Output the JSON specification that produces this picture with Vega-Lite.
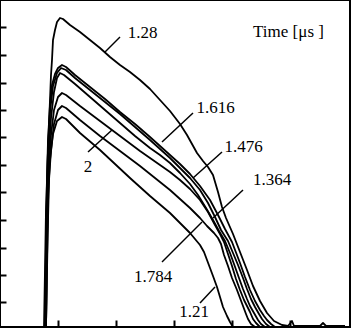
{
  "$schema": "https://vega.github.io/schema/vega-lite/v6.json",
  "width": 350,
  "height": 327,
  "autosize": "none",
  "padding": {"left": 0, "top": 0, "right": 11, "bottom": 3},
  "background": "white",
  "config": {"view": {"stroke": "black", "strokeWidth": 2}, "axis": {"grid": false}},
  "datasets": {
    "curves": [
      {"c":"1.28","t":44,"v":0},{"c":"1.28","t":45,"v":57},{"c":"1.28","t":46,"v":117},{"c":"1.28","t":48,"v":177},{"c":"1.28","t":50,"v":227},{"c":"1.28","t":51,"v":252},{"c":"1.28","t":52,"v":267},{"c":"1.28","t":53,"v":287},{"c":"1.28","t":55,"v":297},{"c":"1.28","t":57,"v":305},{"c":"1.28","t":60,"v":309},{"c":"1.28","t":63,"v":308},{"c":"1.28","t":70,"v":302},{"c":"1.28","t":80,"v":295},{"c":"1.28","t":90,"v":287},{"c":"1.28","t":100,"v":279},{"c":"1.28","t":110,"v":270},{"c":"1.28","t":120,"v":262},{"c":"1.28","t":130,"v":255},{"c":"1.28","t":140,"v":247},{"c":"1.28","t":150,"v":238},{"c":"1.28","t":160,"v":227},{"c":"1.28","t":170,"v":216},{"c":"1.28","t":180,"v":203},{"c":"1.28","t":187,"v":192},{"c":"1.28","t":197,"v":174},{"c":"1.28","t":203,"v":166},{"c":"1.28","t":208,"v":160},{"c":"1.28","t":213,"v":152},{"c":"1.28","t":218,"v":135},{"c":"1.28","t":222,"v":120},{"c":"1.28","t":226,"v":109},{"c":"1.28","t":233,"v":93},{"c":"1.28","t":240,"v":75},{"c":"1.28","t":247,"v":57},{"c":"1.28","t":253,"v":41},{"c":"1.28","t":260,"v":26},{"c":"1.28","t":267,"v":14},{"c":"1.28","t":274,"v":6},{"c":"1.28","t":282,"v":2},{"c":"1.28","t":288,"v":1},{"c":"1.28","t":292,"v":6},{"c":"1.28","t":294,"v":1},{"c":"1.28","t":320,"v":1},{"c":"1.28","t":323,"v":4},{"c":"1.28","t":326,"v":1},{"c":"1.28","t":345,"v":1},
      {"c":"1.616","t":45,"v":0},{"c":"1.616","t":46,"v":87},{"c":"1.616","t":47,"v":147},{"c":"1.616","t":48,"v":187},{"c":"1.616","t":50,"v":222},{"c":"1.616","t":52,"v":242},{"c":"1.616","t":55,"v":253},{"c":"1.616","t":58,"v":259},{"c":"1.616","t":62,"v":262},{"c":"1.616","t":66,"v":260},{"c":"1.616","t":75,"v":252},{"c":"1.616","t":90,"v":240},{"c":"1.616","t":105,"v":228},{"c":"1.616","t":120,"v":215},{"c":"1.616","t":135,"v":203},{"c":"1.616","t":150,"v":190},{"c":"1.616","t":160,"v":181},{"c":"1.616","t":170,"v":172},{"c":"1.616","t":180,"v":163},{"c":"1.616","t":190,"v":153},{"c":"1.616","t":200,"v":141},{"c":"1.616","t":210,"v":127},{"c":"1.616","t":218,"v":112},{"c":"1.616","t":225,"v":98},{"c":"1.616","t":232,"v":85},{"c":"1.616","t":240,"v":64},{"c":"1.616","t":245,"v":50},{"c":"1.616","t":250,"v":37},{"c":"1.616","t":255,"v":26},{"c":"1.616","t":260,"v":17},{"c":"1.616","t":264,"v":11},{"c":"1.616","t":267,"v":7},{"c":"1.616","t":271,"v":3},{"c":"1.616","t":275,"v":0},
      {"c":"1.476","t":45,"v":0},{"c":"1.476","t":46,"v":77},{"c":"1.476","t":47,"v":137},{"c":"1.476","t":48,"v":177},{"c":"1.476","t":50,"v":215},{"c":"1.476","t":53,"v":241},{"c":"1.476","t":57,"v":254},{"c":"1.476","t":61,"v":259},{"c":"1.476","t":66,"v":257},{"c":"1.476","t":75,"v":249},{"c":"1.476","t":90,"v":237},{"c":"1.476","t":105,"v":225},{"c":"1.476","t":120,"v":213},{"c":"1.476","t":135,"v":200},{"c":"1.476","t":150,"v":187},{"c":"1.476","t":160,"v":178},{"c":"1.476","t":170,"v":169},{"c":"1.476","t":180,"v":159},{"c":"1.476","t":190,"v":149},{"c":"1.476","t":200,"v":137},{"c":"1.476","t":208,"v":124},{"c":"1.476","t":215,"v":110},{"c":"1.476","t":221,"v":97},{"c":"1.476","t":228,"v":86},{"c":"1.476","t":233,"v":74},{"c":"1.476","t":238,"v":62},{"c":"1.476","t":243,"v":49},{"c":"1.476","t":247,"v":38},{"c":"1.476","t":251,"v":28},{"c":"1.476","t":255,"v":20},{"c":"1.476","t":259,"v":13},{"c":"1.476","t":262,"v":8},{"c":"1.476","t":266,"v":3},{"c":"1.476","t":270,"v":0},
      {"c":"1.364","t":46,"v":0},{"c":"1.364","t":47,"v":87},{"c":"1.364","t":48,"v":142},{"c":"1.364","t":49,"v":177},{"c":"1.364","t":51,"v":209},{"c":"1.364","t":54,"v":235},{"c":"1.364","t":57,"v":249},{"c":"1.364","t":60,"v":254},{"c":"1.364","t":64,"v":252},{"c":"1.364","t":75,"v":243},{"c":"1.364","t":90,"v":230},{"c":"1.364","t":105,"v":217},{"c":"1.364","t":120,"v":204},{"c":"1.364","t":135,"v":191},{"c":"1.364","t":150,"v":179},{"c":"1.364","t":160,"v":172},{"c":"1.364","t":170,"v":164},{"c":"1.364","t":180,"v":154},{"c":"1.364","t":190,"v":143},{"c":"1.364","t":198,"v":132},{"c":"1.364","t":206,"v":119},{"c":"1.364","t":213,"v":107},{"c":"1.364","t":219,"v":96},{"c":"1.364","t":225,"v":86},{"c":"1.364","t":230,"v":74},{"c":"1.364","t":234,"v":63},{"c":"1.364","t":239,"v":49},{"c":"1.364","t":243,"v":38},{"c":"1.364","t":247,"v":28},{"c":"1.364","t":250,"v":21},{"c":"1.364","t":254,"v":14},{"c":"1.364","t":258,"v":7},{"c":"1.364","t":261,"v":3},{"c":"1.364","t":265,"v":0},
      {"c":"2","t":46,"v":0},{"c":"2","t":47,"v":67},{"c":"2","t":48,"v":122},{"c":"2","t":49,"v":162},{"c":"2","t":51,"v":192},{"c":"2","t":54,"v":217},{"c":"2","t":58,"v":230},{"c":"2","t":62,"v":234},{"c":"2","t":66,"v":232},{"c":"2","t":80,"v":221},{"c":"2","t":100,"v":206},{"c":"2","t":120,"v":191},{"c":"2","t":140,"v":176},{"c":"2","t":160,"v":162},{"c":"2","t":170,"v":155},{"c":"2","t":180,"v":147},{"c":"2","t":190,"v":138},{"c":"2","t":200,"v":127},{"c":"2","t":208,"v":115},{"c":"2","t":215,"v":102},{"c":"2","t":220,"v":93},{"c":"2","t":224,"v":85},{"c":"2","t":228,"v":73},{"c":"2","t":232,"v":61},{"c":"2","t":236,"v":48},{"c":"2","t":240,"v":37},{"c":"2","t":244,"v":27},{"c":"2","t":247,"v":21},{"c":"2","t":250,"v":15},{"c":"2","t":253,"v":8},{"c":"2","t":256,"v":4},{"c":"2","t":260,"v":0},
      {"c":"1.784","t":46,"v":0},{"c":"1.784","t":47,"v":57},{"c":"1.784","t":48,"v":107},{"c":"1.784","t":49,"v":147},{"c":"1.784","t":51,"v":177},{"c":"1.784","t":54,"v":203},{"c":"1.784","t":58,"v":217},{"c":"1.784","t":62,"v":221},{"c":"1.784","t":66,"v":219},{"c":"1.784","t":80,"v":207},{"c":"1.784","t":100,"v":191},{"c":"1.784","t":120,"v":176},{"c":"1.784","t":140,"v":161},{"c":"1.784","t":160,"v":145},{"c":"1.784","t":170,"v":137},{"c":"1.784","t":180,"v":128},{"c":"1.784","t":190,"v":119},{"c":"1.784","t":200,"v":109},{"c":"1.784","t":207,"v":101},{"c":"1.784","t":214,"v":94},{"c":"1.784","t":218,"v":89},{"c":"1.784","t":221,"v":83},{"c":"1.784","t":224,"v":72},{"c":"1.784","t":228,"v":61},{"c":"1.784","t":232,"v":49},{"c":"1.784","t":237,"v":37},{"c":"1.784","t":240,"v":29},{"c":"1.784","t":243,"v":21},{"c":"1.784","t":246,"v":13},{"c":"1.784","t":248,"v":8},{"c":"1.784","t":251,"v":3},{"c":"1.784","t":255,"v":0},
      {"c":"1.21","t":45,"v":0},{"c":"1.21","t":46,"v":47},{"c":"1.21","t":47,"v":92},{"c":"1.21","t":48,"v":132},{"c":"1.21","t":50,"v":167},{"c":"1.21","t":53,"v":193},{"c":"1.21","t":57,"v":206},{"c":"1.21","t":62,"v":210},{"c":"1.21","t":66,"v":208},{"c":"1.21","t":80,"v":194},{"c":"1.21","t":100,"v":177},{"c":"1.21","t":115,"v":163},{"c":"1.21","t":130,"v":149},{"c":"1.21","t":150,"v":131},{"c":"1.21","t":170,"v":114},{"c":"1.21","t":180,"v":104},{"c":"1.21","t":190,"v":94},{"c":"1.21","t":200,"v":82},{"c":"1.21","t":204,"v":75},{"c":"1.21","t":207,"v":67},{"c":"1.21","t":210,"v":59},{"c":"1.21","t":213,"v":51},{"c":"1.21","t":217,"v":40},{"c":"1.21","t":220,"v":30},{"c":"1.21","t":223,"v":20},{"c":"1.21","t":227,"v":11},{"c":"1.21","t":230,"v":5},{"c":"1.21","t":233,"v":0}
    ],
    "leaders": [
      {"c":"1.28","t":105,"v":275,"t2":120,"v2":290},
      {"c":"1.616","t":162,"v":185,"t2":193,"v2":214},
      {"c":"1.476","t":193,"v":149,"t2":222,"v2":175},
      {"c":"1.364","t":213,"v":109,"t2":243,"v2":137},
      {"c":"1.784","t":162,"v":65,"t2":202,"v2":105},
      {"c":"2","t":88,"v":175,"t2":112,"v2":197},
      {"c":"1.21","t":200,"v":24,"t2":215,"v2":40}
    ],
    "labels": [
      {"s":"1.28","t":142.5,"v":294},
      {"s":"1.616","t":215.5,"v":219},
      {"s":"1.476","t":243.5,"v":180},
      {"s":"1.364","t":272,"v":147},
      {"s":"1.784","t":153,"v":50},
      {"s":"2","t":88,"v":160},
      {"s":"1.21","t":194,"v":15},
      {"s":"Time [μs ]","t":288.5,"v":295}
    ]
  },
  "layer": [
    {
      "data": {"name": "curves"},
      "mark": {"type": "line", "color": "black", "strokeWidth": 1.8, "strokeJoin": "round"},
      "encoding": {
        "x": {"field": "t", "type": "quantitative", "scale": {"domain": [0, 350], "nice": false, "zero": false},
              "axis": {"values": [58, 116, 174, 232, 290], "tickCount": 40, "labels": false, "domain": false, "tickSize": -7, "tickColor": "black", "tickWidth": 2, "title": null}},
        "y": {"field": "v", "type": "quantitative", "scale": {"domain": [0, 327], "nice": false, "zero": false},
              "axis": {"values": [25, 52, 79, 107, 135, 162, 190, 217, 244, 272, 300], "tickCount": 40, "labels": false, "domain": false, "tickSize": -6, "tickColor": "black", "tickWidth": 2, "title": null}},
        "detail": {"field": "c"}
      }
    },
    {
      "data": {"name": "leaders"},
      "mark": {"type": "rule", "color": "black", "strokeWidth": 1.5},
      "encoding": {
        "x": {"field": "t", "type": "quantitative"},
        "y": {"field": "v", "type": "quantitative"},
        "x2": {"field": "t2"},
        "y2": {"field": "v2"}
      }
    },
    {
      "data": {"name": "labels"},
      "mark": {"type": "text", "font": "Liberation Serif", "fontSize": 17, "color": "black", "align": "center", "baseline": "middle"},
      "encoding": {
        "x": {"field": "t", "type": "quantitative"},
        "y": {"field": "v", "type": "quantitative"},
        "text": {"field": "s"}
      }
    }
  ]
}
